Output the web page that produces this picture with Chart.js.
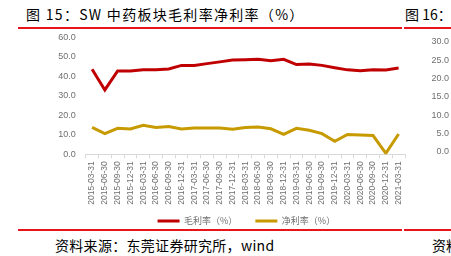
<!DOCTYPE html>
<html><head><meta charset="utf-8">
<script src="https://cdn.jsdelivr.net/npm/chart.js@4"></script>
<style>
html,body{margin:0;padding:0;background:#fff;}
body{width:451px;height:256px;position:relative;overflow:hidden;font-family:"Noto Sans CJK SC","Noto Sans",sans-serif;}
.t{position:absolute;white-space:nowrap;color:#000;}
.rl{position:absolute;height:2px;background:#e8141a;}
canvas{position:absolute;}
</style></head>
<body>
<div class="t" style="left:26px;top:5px;font-size:14px;line-height:18px;letter-spacing:1.3px;">图 15：SW 中药板块毛利率净利率（%）</div>
<div class="t" style="left:405px;top:5px;font-size:14px;line-height:18px;">图 16：</div>
<div class="rl" style="left:18px;width:384px;top:27px;"></div>
<div class="rl" style="left:404px;width:47px;top:27px;"></div>
<div class="rl" style="left:18px;width:384px;top:229px;"></div>
<div class="rl" style="left:404px;width:47px;top:229px;"></div>
<div class="t" style="left:55px;top:236px;font-size:14px;line-height:18px;letter-spacing:0.3px;">资料来源：东莞证券研究所，wind</div>
<div class="t" style="left:432px;top:236px;font-size:14px;line-height:18px;">资料</div>
<canvas id="c" width="451" height="256" style="left:0;top:0;"></canvas>
<canvas id="c2" width="51" height="256" style="left:400px;top:0;"></canvas>
<script>
const categories = ["2015-03-31","2015-06-30","2015-09-30","2015-12-31","2016-03-31","2016-06-30","2016-09-30","2016-12-31","2017-03-31","2017-06-30","2017-09-30","2017-12-31","2018-03-31","2018-06-30","2018-09-30","2018-12-31","2019-03-31","2019-06-30","2019-09-30","2019-12-31","2020-03-31","2020-06-30","2020-09-30","2020-12-31","2021-03-31"];
const grossMargin = [43.6,33.0,42.7,42.7,43.4,43.4,43.8,45.6,45.6,46.5,47.4,48.4,48.5,48.7,48.0,48.7,46.0,46.3,45.6,44.4,43.3,42.8,43.4,43.2,44.3];
const netMargin = [13.8,10.6,13.3,13.0,14.9,13.8,14.2,13.0,13.5,13.5,13.5,12.8,13.7,14.0,13.1,10.2,13.3,12.3,10.6,6.7,10.2,9.9,9.6,0.5,10.4];
const seriesNames = ["毛利率（%）","净利率（%）"];
const leftAxis = {min:0, max:60, step:10};
const fig16Axis = {min:0, max:30, step:5};

const grey = '#6f6f6f';
const legendShift = {
  id:'legendShift',
  afterLayout(chart){
    const l = chart.legend;
    if (l) { l.top -= 7.8; l.bottom -= 7.8; l.left += 1; l.right += 1; }
  }
};
new Chart(document.getElementById('c'), {
  type:'line',
  data:{labels:categories, datasets:[
    {label:seriesNames[0], data:grossMargin, borderColor:'#C00000', backgroundColor:'#C00000', borderWidth:3, pointRadius:0, tension:0},
    {label:seriesNames[1], data:netMargin, borderColor:'#C79A00', backgroundColor:'#C79A00', borderWidth:3, pointRadius:0, tension:0}
  ]},
  plugins:[legendShift],
  options:{
    responsive:false, animation:false,
    layout:{padding:{left:0,right:46,top:37.3,bottom:12.7}},
    plugins:{
      legend:{position:'bottom', fullSize:false, labels:{usePointStyle:true, pointStyle:'line', pointStyleWidth:22, padding:18, color:grey, font:{size:9, family:'"Noto Sans CJK SC"'}}},
      tooltip:{enabled:false}
    },
    scales:{
      x:{offset:true, afterFit:s=>{s.height=52;},
        grid:{display:true, drawOnChartArea:false, drawTicks:true, tickLength:4, offset:true, color:'#d9d9d9'},
        border:{color:'#d9d9d9'},
        ticks:{autoSkip:false, maxRotation:90, minRotation:90, padding:3, color:grey, font:{size:8.5, family:'Liberation Sans'}}},
      y:{min:leftAxis.min, max:leftAxis.max, afterFit:s=>{s.width=85.7;},
        grid:{display:false, drawTicks:false}, border:{display:false},
        ticks:{stepSize:leftAxis.step, padding:10, color:grey, font:{size:9, family:'Liberation Sans'}, callback:v=>v.toFixed(1)}}
    }
  }
});
new Chart(document.getElementById('c2'), {
  type:'line',
  data:{labels:[], datasets:[]},
  options:{
    responsive:false, animation:false,
    layout:{padding:{left:0,right:0,top:41.7,bottom:104}},
    plugins:{legend:{display:false}, tooltip:{enabled:false}},
    scales:{
      x:{display:false},
      y:{min:fig16Axis.min, max:fig16Axis.max, afterFit:s=>{s.width=49;},
        grid:{display:false, drawTicks:false}, border:{display:false},
        ticks:{stepSize:fig16Axis.step, padding:0, color:grey, font:{size:9, family:'Liberation Sans'}, callback:v=>v.toFixed(1)}}
    }
  }
});
</script>
</body></html>
